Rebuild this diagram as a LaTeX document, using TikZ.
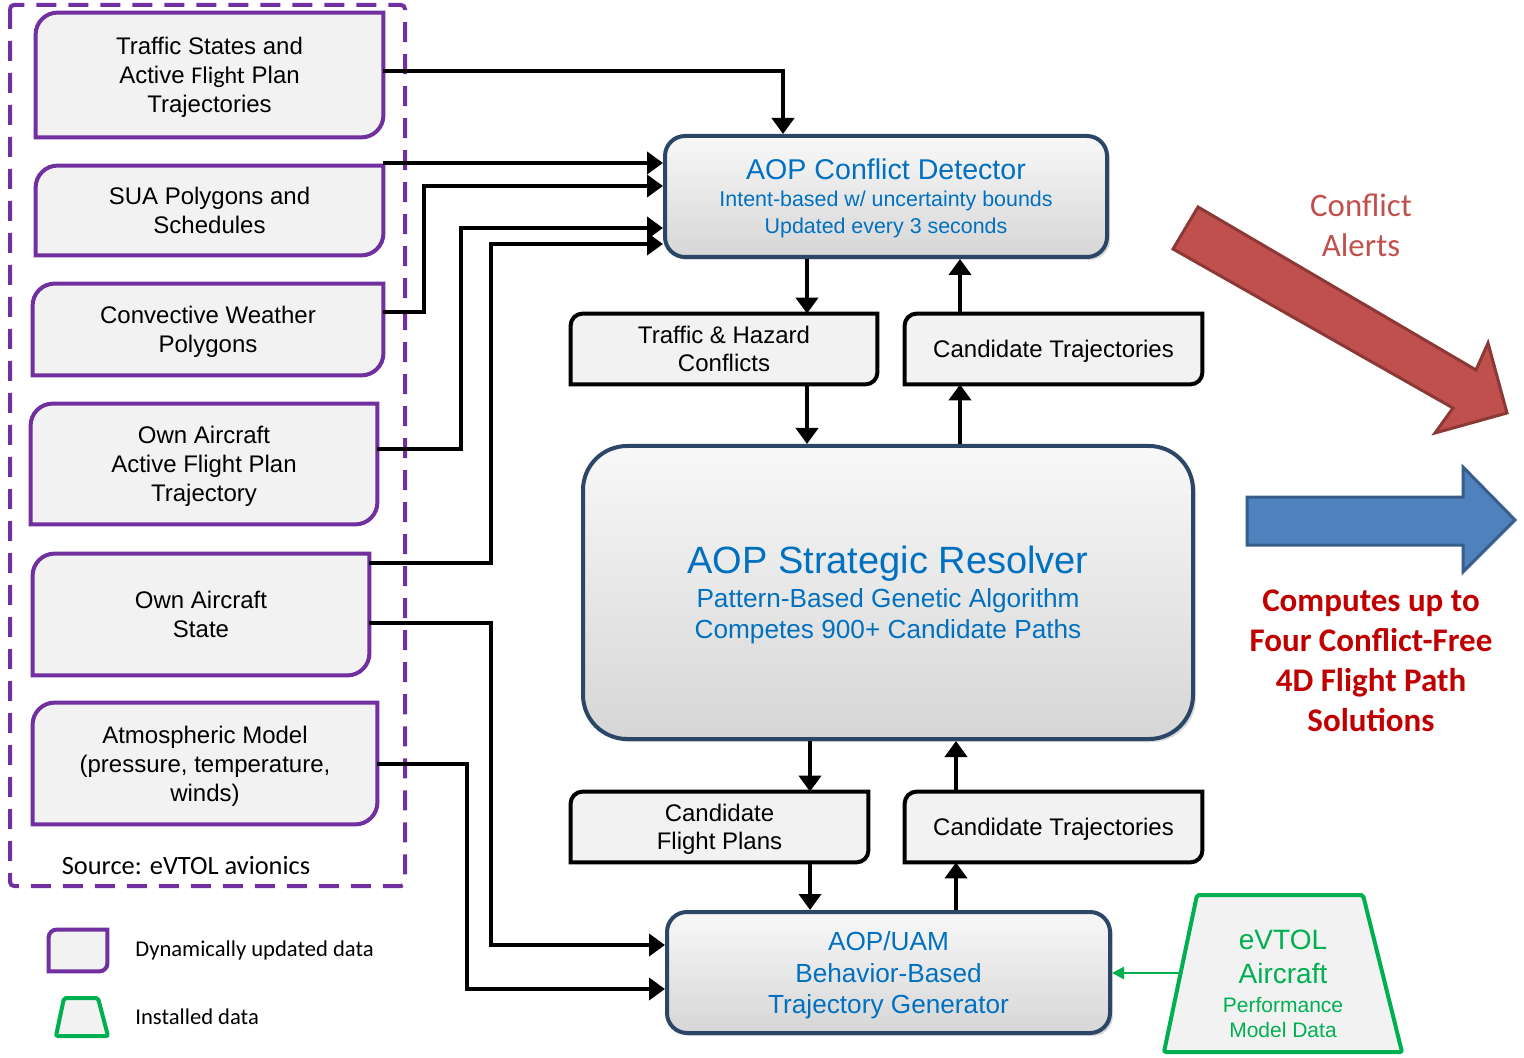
\documentclass[tikz,border=0pt]{standalone}
\usepackage{fontspec}
\setmainfont{Liberation Sans}
\newfontfamily\calibri{Carlito}
\usepackage{xcolor}
\usepackage{tikz}
\usetikzlibrary{arrows.meta, shadows, backgrounds}
\definecolor{custom_purple}{HTML}{7030A0}
\definecolor{custom_green}{HTML}{00B050}
\definecolor{custom_boxfill}{HTML}{F2F2F2}
\definecolor{custom_navy}{HTML}{2C4668}
\definecolor{custom_textblue}{HTML}{0070C0}
\definecolor{custom_shadetop}{HTML}{F8F8F8}
\definecolor{custom_shademid}{HTML}{E7E7E7}
\definecolor{custom_shadebot}{HTML}{D6D6D6}
\definecolor{custom_alertfill}{HTML}{C0504D}
\definecolor{custom_alertline}{HTML}{8C3836}
\definecolor{custom_solution}{HTML}{C00000}
\definecolor{custom_arrowfill}{HTML}{4F81BD}
\definecolor{custom_arrowline}{HTML}{385D8A}

\tikzset{
  flow/.style={line width=2pt, -{Triangle[length=8pt,width=11pt]}},
  datatext/.style={align=center, text depth=0pt, font=\fontsize{12}{14.5}\selectfont},
  purpleframe/.style={draw=custom_purple, line width=2pt, fill=custom_boxfill},
  blackframe/.style={draw=black, line width=2pt, fill=custom_boxfill},
  installedframe/.style={draw=custom_green, line width=2pt, fill=custom_boxfill, rounded corners=1pt},
  procbox/.style={draw=custom_navy, line width=2pt, top color=custom_shadetop, bottom color=custom_shadebot, middle color=custom_shademid, text=custom_textblue, align=center, text depth=-3.5pt, drop shadow={opacity=0.3, shadow xshift=1.5pt, shadow yshift=-1.5pt}}
}

% box with rounded top-left and bottom-right corners
\newcommand{\diagframe}[3]{%
  \begin{scope}[on background layer]
    \draw[#3] (#1.north east) -- ([yshift=#2]#1.south east)
      .. controls ([yshift=0.448*#2]#1.south east) and ([xshift=-0.448*#2]#1.south east) .. ([xshift=-#2]#1.south east)
      -- (#1.south west) -- ([yshift=-#2]#1.north west)
      .. controls ([yshift=-0.448*#2]#1.north west) and ([xshift=0.448*#2]#1.north west) .. ([xshift=#2]#1.north west) -- cycle;
  \end{scope}}

\begin{document}
\begin{tikzpicture}[x=0.5pt, y=-0.5pt]
                \useasboundingbox (0,0) rectangle (1524,1058);

                \draw[custom_purple, line width=2pt, dash pattern=on 10pt off 6pt, rounded corners=2pt] (10,5) rectangle (405,886);

                \node[datatext, minimum width=173.5pt, minimum height=62pt] (traffic) at (209.5,75) {Traffic States and\\Active {\calibri Flight} Plan\\Trajectories};
                \node[datatext, minimum width=173.5pt, minimum height=44.5pt] (sua) at (209.5,210.5) {SUA Polygons and\\Schedules};
                \node[datatext, minimum width=175pt, minimum height=45.5pt] (weather) at (208,329.5) {Convective Weather\\Polygons};
                \node[datatext, minimum width=173pt, minimum height=60pt] (ownplan) at (204,464) {Own Aircraft\\Active Flight Plan\\Trajectory};
                \node[datatext, minimum width=168pt, minimum height=60.5pt] (ownstate) at (201,614.5) {Own Aircraft\\State};
                \node[datatext, minimum width=172pt, minimum height=60.5pt] (atmos) at (205,763.5) {Atmospheric Model\\(pressure, temperature,\\winds)};
                \diagframe{traffic}{11pt}{purpleframe}
                \diagframe{sua}{11pt}{purpleframe}
                \diagframe{weather}{11pt}{purpleframe}
                \diagframe{ownplan}{11pt}{purpleframe}
                \diagframe{ownstate}{11pt}{purpleframe}
                \diagframe{atmos}{11pt}{purpleframe}
                \node[font=\calibri\fontsize{13.2}{15}\selectfont] (source) at (186,866) {Source: eVTOL avionics};

                \node[procbox, minimum width=221pt, minimum height=60.5pt, rounded corners=10pt, font=\fontsize{10.7}{13.5}\selectfont] (det) at (886,196.5) {{\fontsize{14.3}{16}\selectfont AOP Conflict Detector}\\Intent-based w/ uncertainty bounds\\Updated every 3 seconds};
                \node[procbox, minimum width=305pt, minimum height=146.5pt, rounded corners=22pt, font=\fontsize{13.1}{15.5}\selectfont] (res) at (888,592.5) {{\fontsize{19}{22}\selectfont AOP Strategic Resolver}\\[1.5pt]Pattern-Based Genetic Algorithm\\Competes 900+ Candidate Paths};
                \node[procbox, minimum width=221.5pt, minimum height=60.5pt, rounded corners=10pt, font=\fontsize{13.1}{15.75}\selectfont] (gen) at (888.5,972.5) {AOP/UAM\\Behavior-Based\\Trajectory Generator};

                \node[datatext, font=\fontsize{12}{14}\selectfont, minimum width=153pt, minimum height=35pt] (hazard) at (724,349) {Traffic \& Hazard\\Conflicts};
                \node[datatext, minimum width=148.5pt, minimum height=35pt] (trajup) at (1053.5,349) {Candidate Trajectories};
                \node[datatext, font=\fontsize{12}{14}\selectfont, minimum width=148.5pt, minimum height=35pt] (plans) at (719.5,827) {Candidate\\Flight Plans};
                \node[datatext, minimum width=148.5pt, minimum height=35pt] (trajdown) at (1053.5,827) {Candidate Trajectories};
                \diagframe{hazard}{6pt}{blackframe}
                \diagframe{trajup}{6pt}{blackframe}
                \diagframe{plans}{6pt}{blackframe}
                \diagframe{trajdown}{6pt}{blackframe}

                \filldraw[installedframe] (1197,895) -- (1363,895) -- (1402,1052) -- (1164,1052) -- cycle;
                \node[text=custom_green, align=center, font=\fontsize{10.5}{12.5}\selectfont] (evtol) at (1283,984) {{\fontsize{14}{16}\selectfont eVTOL}\\[4.5pt]{\fontsize{14}{16}\selectfont Aircraft}\\[1.75pt]Performance\\Model Data};
                \coordinate (evtolport) at (1181,973);

                \coordinate (laneA) at (783,0);
                \coordinate (rowB) at (0,163);
                \coordinate (laneC) at (424,186);
                \coordinate (laneD) at (461,228);
                \coordinate (laneE) at (491,244);
                \coordinate (laneF) at (491,945);
                \coordinate (laneG) at (467,989);
                \coordinate (laneH) at (807,0);
                \coordinate (laneI) at (960,0);
                \coordinate (laneJ) at (810,0);
                \coordinate (laneK) at (956,0);

                \draw[flow] ([yshift=2pt]traffic.east) -| (det.north -| laneA);
                \draw[flow] (sua.north east |- rowB) -- (det.west |- rowB);
                \draw[flow] ([yshift=8.75pt]weather.east) -| (laneC) -- (det.west |- laneC);
                \draw[flow] ([yshift=7.5pt]ownplan.east) -| (laneD) -- (det.west |- laneD);
                \draw[flow] ([yshift=25.75pt]ownstate.east) -| (laneE) -- (det.west |- laneE);
                \draw[flow] ([yshift=-4.25pt]ownstate.east) -| (laneF) -- (gen.west |- laneF);
                \draw[flow] (atmos.east) -| (laneG) -- (gen.west |- laneG);

                \draw[flow] (det.south -| laneH) -- (hazard.north -| laneH);
                \draw[flow] (hazard.south -| laneH) -- (res.north -| laneH);
                \draw[flow] (res.north -| laneI) -- (trajup.south -| laneI);
                \draw[flow] (trajup.north -| laneI) -- (det.south -| laneI);
                \draw[flow] (res.south -| laneJ) -- (plans.north -| laneJ);
                \draw[flow] (plans.south -| laneJ) -- (gen.north -| laneJ);
                \draw[flow] (gen.north -| laneK) -- (trajdown.south -| laneK);
                \draw[flow] (trajdown.north -| laneK) -- (res.south -| laneK);

                \draw[custom_green, line width=1.3pt, -{Triangle[length=6pt,width=6pt]}] (evtolport) -- (evtolport -| gen.east);

                \filldraw[fill=custom_alertfill, draw=custom_alertline, line width=1.5pt] (1198,207) -- (1476,370) -- (1488,343) -- (1507,413) -- (1435,433) -- (1453,408) -- (1173,249) -- cycle;
                \node[text=custom_alertfill, align=center, font=\calibri\fontsize{16.4}{20}\selectfont] (alerts) at (1361,225) {Conflict\\Alerts};

                \filldraw[fill=custom_arrowfill, draw=custom_arrowline, line width=1.5pt] (1247,497) -- (1463,497) -- (1463,467) -- (1515,520) -- (1463,572) -- (1463,545) -- (1247,545) -- cycle;
                \node[text=custom_solution, align=center, font=\calibri\bfseries\fontsize{16.5}{20}\selectfont] (solutions) at (1371,661) {Computes up to\\Four Conflict-Free\\4D Flight Path\\Solutions};

                \node[minimum width=29pt, minimum height=20.5pt] (legdyn) at (78,950.5) {};
                \diagframe{legdyn}{4pt}{purpleframe}
                \node[anchor=west, inner xsep=0pt, font=\calibri\fontsize{11.3}{13}\selectfont] (legdyntext) at (135,950) {Dynamically updated data};
                \filldraw[installedframe] (64,998) -- (98,998) -- (108,1036) -- (56,1036) -- cycle;
                \node[anchor=west, inner xsep=0pt, font=\calibri\fontsize{11.3}{13}\selectfont] (leginsttext) at (135,1017) {Installed data};
            \end{tikzpicture}
\end{document}
